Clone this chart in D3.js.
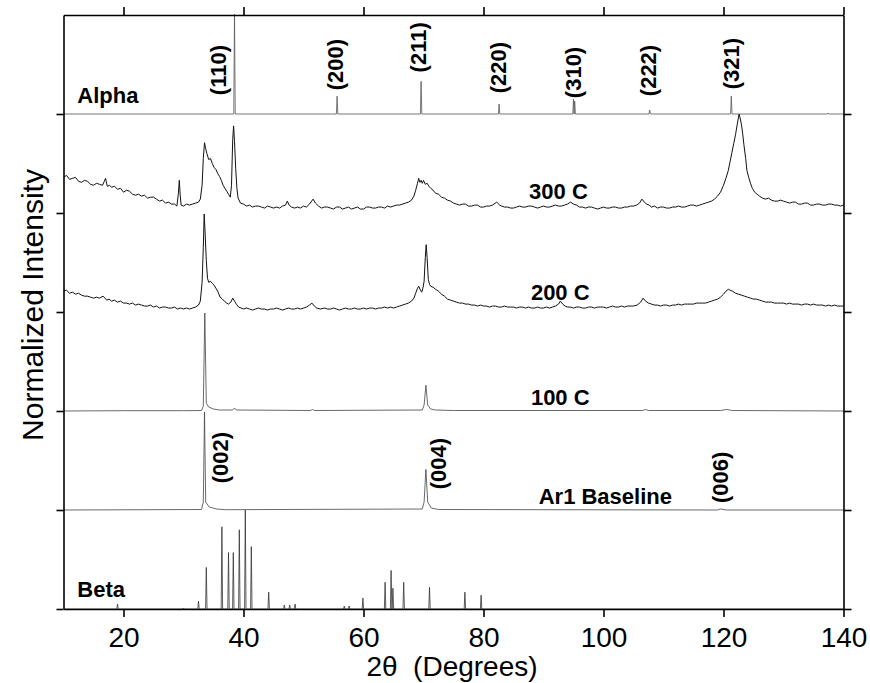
<!DOCTYPE html>
<html>
<head>
<meta charset="utf-8">
<script src="https://cdn.jsdelivr.net/npm/d3@7"></script>
<style>
  body { margin: 0; background: #fff; }
  svg { display: block; font-family: "Liberation Sans", Arial, sans-serif; }
</style>
</head>
<body>
<svg id="chart" width="870" height="683"></svg>
<script>
// x ticks (2-theta, degrees)
const xTicks = [20, 40, 60, 80, 100, 120, 140];

// stick patterns: [2theta, height in % of panel]
const alphaPeaks = [[38.5, 101], [55.6, 18], [69.6, 33], [82.6, 10], [95.0, 15], [95.2, 13], [107.7, 4], [121.3, 18], [137.4, 1]];
const betaPeaks = [[19.0, 5], [30.0, 1], [32.5, 8], [33.8, 42], [36.4, 83], [37.5, 57], [38.3, 57], [39.3, 80], [40.3, 100], [41.3, 63],
  [44.2, 17], [46.8, 4], [47.7, 4], [48.6, 5], [56.8, 3], [57.6, 3], [59.9, 11], [63.6, 27], [64.6, 39], [64.9, 21], [66.7, 27],
  [71.0, 22], [76.9, 17], [79.6, 14]];

// measured traces: [2theta, % of panel above its baseline]
const trace300 = [[10,36],[10.5,38],[11,34],[11.5,35],[12,36],[12.5,32],[13,31],[13.5,33],[14,32],[14.5,29],[15,28],[15.5,30],[16,29],[16.5,28],[16.8,32],[17,35],[17.3,27],[17.7,28],[18,26],[18.5,27],[19,24],[19.5,25],[20,21],[20.5,23],[21,22],[21.5,19],[22,18],[22.5,19],[23,17],[23.5,18],[24,15],[24.5,16],[25,16],[25.5,14],[26,12],[26.5,13],[27,10],[27.5,11],[28,9],[28.5,9],[28.9,7],[29.15,20],[29.3,33],[29.45,18],[29.6,8],[30,7],[30.5,9],[31,8],[31.5,9],[32,10],[32.5,11],[32.8,14],[33.1,28],[33.3,55],[33.5,71],[33.7,65],[33.9,60],[34.2,54],[34.5,55],[34.8,50],[35.1,46],[35.4,44],[35.7,40],[36,37],[36.3,33],[36.6,28],[36.9,25],[37.2,22],[37.5,19],[37.8,16],[38.0,28],[38.2,74],[38.35,88],[38.5,72],[38.7,45],[38.9,25],[39.1,15],[39.5,10],[40,9],[40.5,7],[41,8],[41.5,6],[42,7],[42.5,7],[43,6],[43.5,5],[44,7],[44.5,6],[45,5],[45.5,6],[46,5],[46.5,7],[47,8],[47.3,12],[47.6,8],[48,6],[48.5,5],[49,6],[49.5,5],[50,7],[50.5,6],[51,9],[51.6,14],[52,10],[52.5,7],[53,5],[53.5,6],[54,6],[54.5,5],[55,4],[55.5,6],[56,6],[56.5,4],[57,5],[57.5,6],[58,4],[58.5,5],[59,6],[59.5,4],[60,4],[60.5,6],[61,6],[61.5,5],[62,5],[62.5,6],[63,6],[63.5,5],[64,7],[64.5,6],[65,7],[65.5,8],[66,8],[66.5,9],[67,10],[67.5,11],[68,13],[68.4,17],[68.7,23],[69.0,30],[69.2,35],[69.4,31],[69.6,33],[69.8,30],[70.0,33],[70.3,29],[70.6,30],[70.9,27],[71.2,25],[71.6,23],[72,20],[72.5,19],[73,16],[73.5,15],[74,13],[74.5,12],[75,10],[75.5,9],[76,8],[76.5,9],[77,9],[77.5,7],[78,7],[78.5,8],[79,8],[79.5,6],[80,6],[80.5,7],[81,7],[81.5,8],[82.2,11],[82.7,8],[83,7],[83.5,6],[84,6],[84.5,5],[85,5],[85.5,6],[86,7],[86.5,6],[87,6],[87.5,7],[88,7],[88.5,6],[89,5],[89.5,6],[90,7],[90.5,6],[91,6],[91.5,7],[92,8],[92.5,7],[93,7],[93.5,8],[94,9],[94.5,11],[95,9],[95.5,8],[96,6],[96.5,6],[97,5],[97.5,6],[98,6],[98.5,5],[99,4],[99.5,5],[100,6],[100.5,5],[101,5],[101.5,6],[102,6],[102.5,5],[103,5],[103.5,6],[104,6],[104.5,7],[105,7],[105.5,8],[106,10],[106.4,14],[106.8,11],[107.2,9],[107.6,8],[108,6],[108.5,7],[109,5],[109.5,6],[110,6],[110.5,5],[111,5],[111.5,6],[112,6],[112.5,7],[113,6],[113.5,6],[114,7],[114.5,8],[115,8],[115.5,7],[116,8],[116.5,9],[117,10],[117.5,11],[118,12],[118.5,14],[119,17],[119.5,21],[120,28],[120.4,35],[120.8,43],[121.1,52],[121.4,61],[121.7,70],[122,79],[122.3,90],[122.6,100],[122.8,95],[123,89],[123.2,80],[123.4,69],[123.7,55],[123.9,43],[124.2,36],[124.5,30],[124.8,25],[125.2,21],[125.6,19],[126,17],[126.5,15],[127,14],[127.5,15],[128,13],[128.5,12],[129,12],[129.5,13],[130,12],[130.5,11],[131,10],[131.5,11],[132,11],[132.5,9],[133,9],[133.5,10],[134,10],[134.5,8],[135,8],[135.5,9],[136,9],[136.5,8],[137,8],[137.5,9],[138,9],[138.5,8],[139,8],[139.5,7],[140,8]];

const trace200 = [[10,21],[10.5,22],[11,19],[11.5,20],[12,18],[12.5,19],[13,17],[13.5,16],[14,16],[14.5,15],[15,14],[15.5,15],[16,14],[16.6,16],[17.2,12],[17.6,13],[18,11],[18.5,12],[19,10],[19.5,11],[20,9],[20.5,9],[21,8],[21.5,9],[22,7],[22.5,8],[23,7],[23.5,6],[24,6],[24.5,7],[25,5],[25.5,6],[26,4],[26.5,5],[27,5],[27.5,4],[28,4],[28.5,5],[29,3],[29.5,4],[30,3],[30.5,4],[31,3],[31.5,4],[32,5],[32.5,7],[32.8,11],[33.1,30],[33.3,65],[33.45,99],[33.6,80],[33.8,52],[34.0,34],[34.2,30],[34.5,31],[34.8,29],[35.1,27],[35.4,24],[35.7,21],[36.1,15],[36.5,13],[36.8,11],[37.2,9],[37.5,8],[37.9,10],[38.2,14],[38.5,11],[38.8,8],[39.2,5],[39.6,4],[40,3],[40.5,4],[41,3],[41.5,2],[42,3],[42.5,4],[43,3],[43.5,3],[44,2],[44.5,3],[45,3],[45.5,4],[46,3],[46.5,2],[47,3],[47.5,4],[48,3],[48.5,3],[49,4],[49.5,3],[50,4],[50.5,5],[51,7],[51.4,9],[51.8,6],[52.2,4],[52.8,3],[53.5,4],[54,3],[54.5,3],[55,4],[55.5,3],[56,2],[56.5,3],[57,4],[57.5,3],[58,3],[58.5,4],[59,3],[59.5,3],[60,4],[60.5,3],[61,4],[61.5,4],[62,3],[62.5,4],[63,4],[63.5,5],[64,4],[64.5,5],[65,4],[65.5,5],[66,6],[66.5,7],[67,8],[67.5,9],[68,11],[68.4,14],[68.7,19],[69.0,24],[69.2,26],[69.5,22],[69.7,20],[69.9,24],[70.1,31],[70.3,55],[70.45,68],[70.6,55],[70.8,33],[71.0,28],[71.2,26],[71.6,25],[72,23],[72.5,21],[73,18],[73.5,16],[74,13],[74.5,12],[75,11],[75.5,10],[76,9],[76.5,9],[77,8],[77.5,8],[78,7],[78.5,7],[79,6],[79.5,7],[80,6],[80.5,6],[81,5],[81.5,6],[82,6],[82.5,5],[83,5],[83.5,6],[84,5],[84.5,5],[85,5],[85.5,4],[86,5],[86.5,5],[87,4],[87.5,5],[88,4],[88.5,4],[89,5],[89.5,4],[90,4],[90.5,5],[91,4],[91.5,5],[92,6],[92.5,8],[92.8,11],[93.2,8],[93.6,6],[94,5],[94.5,5],[95,4],[95.5,5],[96,5],[96.5,4],[97,4],[97.5,5],[98,5],[98.5,4],[99,5],[99.5,5],[100,5],[100.5,4],[101,5],[101.5,6],[102,5],[102.5,5],[103,6],[103.5,5],[104,6],[104.5,6],[105,6],[105.6,7],[106.2,10],[106.6,14],[107,11],[107.5,9],[108,8],[108.5,7],[109,7],[109.5,6],[110,7],[110.5,7],[111,6],[111.5,7],[112,7],[112.5,8],[113,7],[113.5,8],[114,8],[114.5,8],[115,8],[115.5,9],[116,9],[116.5,9],[117,9],[117.5,10],[118,11],[118.5,12],[119,13],[119.5,15],[120,18],[120.4,21],[120.8,23],[121.1,22],[121.5,21],[122,19],[122.5,18],[123,17],[123.5,16],[124,15],[124.5,14],[125,13],[125.5,13],[126,12],[126.5,11],[127,10],[127.5,10],[128,10],[128.5,9],[129,9],[129.5,9],[130,9],[130.5,8],[131,9],[131.5,8],[132,8],[132.5,8],[133,7],[133.5,8],[134,8],[134.5,7],[135,8],[135.5,7],[136,7],[136.5,7],[137,6],[137.5,7],[138,6],[138.5,7],[139,6],[139.5,6],[140,6]];

const trace100 = [[10,0],[20,0.3],[30,0.3],[33.0,0.5],[33.3,5],[33.55,99],[33.8,8],[34.2,4],[35,2],[36,1],[38.2,1],[38.5,3],[38.8,1],[51.2,0.5],[51.5,1.5],[51.8,0.5],
  [69.8,1],[70.1,6],[70.4,26],[70.7,6],[71.2,2],[72,1],[75,0.5],[106.5,0.5],[107,1.5],[107.5,0.5],[119.5,0.5],[120.5,1.5],[121.5,0.5],[140,0]];
const traceAr1 = [[10,0],[33,0.5],[33.3,8],[33.5,99],[33.7,8],[34.3,3],[35.5,1],[37,0.3],[69.8,1],[70.1,8],[70.4,41],[70.7,8],[71.3,2],[72.5,0.5],
  [119,0],[119.5,1],[120.5,0],[140,0]];

// panel offsets (bottom to top) and labels
const panels = [
  { name: "Beta", offset: 0 },
  { name: "Ar1 Baseline", offset: 1 },
  { name: "100 C", offset: 2 },
  { name: "200 C", offset: 3 },
  { name: "300 C", offset: 4 },
  { name: "Alpha", offset: 5 }
];

// reflection labels: [text, 2theta at baseline of rotated text, level]
const hklLabels = [["(110)", 37.0, 5.19], ["(200)", 56.5, 5.24], ["(211)", 70.4, 5.42], ["(220)", 83.7, 5.21],
  ["(310)", 96.2, 5.16], ["(222)", 108.7, 5.18], ["(321)", 122.5, 5.25],
  ["(002)", 37.4, 1.27], ["(004)", 73.7, 1.21], ["(006)", 120.7, 1.07]];

const svg = d3.select("#chart");
const x = d3.scaleLinear().domain([10, 140]).range([63.5, 843.5]);
const y = d3.scaleLinear().domain([0, 6]).range([609, 15]);

svg.append("clipPath").attr("id", "clip")
  .append("rect").attr("x", 63.5).attr("y", 14).attr("width", 780).attr("height", 596);

const plot = svg.append("g").attr("clip-path", "url(#clip)");

function sticks(peaks) {
  const pts = [[10, 0]];
  peaks.slice().sort((a, b) => a[0] - b[0]).forEach(p => {
    pts.push([p[0] - 0.12, 0], [p[0], p[1]], [p[0] + 0.12, 0]);
  });
  pts.push([140, 0]);
  return pts;
}

function drawTrace(data, offset, color, width) {
  const line = d3.line()
    .x(d => x(d[0]))
    .y(d => y(offset + d[1] / 100));
  plot.append("path")
    .datum(data)
    .attr("d", line)
    .attr("fill", "none")
    .attr("stroke", color)
    .attr("stroke-width", width)
    .attr("stroke-linejoin", "round");
}

drawTrace(sticks(betaPeaks), 0, "#333", 0.8);
drawTrace(traceAr1, 1, "#444", 0.8);
drawTrace(trace100, 2, "#444", 0.8);
drawTrace(trace200, 3, "#111", 1);
drawTrace(trace300, 4, "#111", 1);
drawTrace(sticks(alphaPeaks), 5, "#555", 0.8);

// axes
const axisStyle = g => {
  g.selectAll("path, line").attr("stroke", "#000").attr("stroke-width", 1.6);
};

svg.append("g")
  .attr("transform", "translate(0,609)")
  .call(d3.axisBottom(x).tickValues(xTicks).tickSize(8).tickSizeOuter(0).tickPadding(10))
  .call(axisStyle)
  .call(g => g.selectAll("text").attr("font-size", 28).attr("fill", "#000").attr("font-family", "Liberation Sans, Arial, sans-serif"));

svg.append("g")
  .attr("transform", "translate(0,15)")
  .call(d3.axisTop(x).tickValues(xTicks).tickSize(8).tickSizeOuter(0).tickFormat(""))
  .call(axisStyle);

svg.append("g")
  .attr("transform", "translate(63.5,0)")
  .call(d3.axisLeft(y).tickValues([0, 1, 2, 3, 4, 5]).tickSize(7).tickSizeOuter(0).tickFormat(""))
  .call(axisStyle);

svg.append("g")
  .attr("transform", "translate(843.5,0)")
  .call(d3.axisRight(y).tickValues([0, 1, 2, 3, 4, 5]).tickSize(8).tickSizeOuter(0).tickFormat(""))
  .call(axisStyle);

// panel labels
const labelPos = {
  "Alpha": [12.3, 5.11], "300 C": [87.6, 4.14], "200 C": [87.9, 3.12],
  "100 C": [87.9, 2.06], "Ar1 Baseline": [89.2, 1.06], "Beta": [12.3, 0.12]
};
svg.selectAll(".plabel")
  .data(panels)
  .enter()
  .append("text")
  .attr("class", "plabel")
  .attr("x", d => x(labelPos[d.name][0]))
  .attr("y", d => y(labelPos[d.name][1]))
  .attr("font-size", 22)
  .attr("font-weight", "bold")
  .text(d => d.name);

svg.selectAll(".hkl")
  .data(hklLabels)
  .enter()
  .append("text")
  .attr("class", "hkl")
  .attr("transform", d => `translate(${x(d[1])},${y(d[2])}) rotate(-90)`)
  .attr("font-size", 22)
  .attr("font-weight", "bold")
  .text(d => d[0]);

// axis titles
svg.append("text")
  .attr("x", 452)
  .attr("y", 676)
  .attr("text-anchor", "middle")
  .attr("font-size", 28)
  .style("white-space", "pre")
  .text("2θ  (Degrees)");

svg.append("text")
  .attr("transform", "translate(43,305) rotate(-90)")
  .attr("text-anchor", "middle")
  .attr("font-size", 30)
  .text("Normalized Intensity");
</script>
</body>
</html>
